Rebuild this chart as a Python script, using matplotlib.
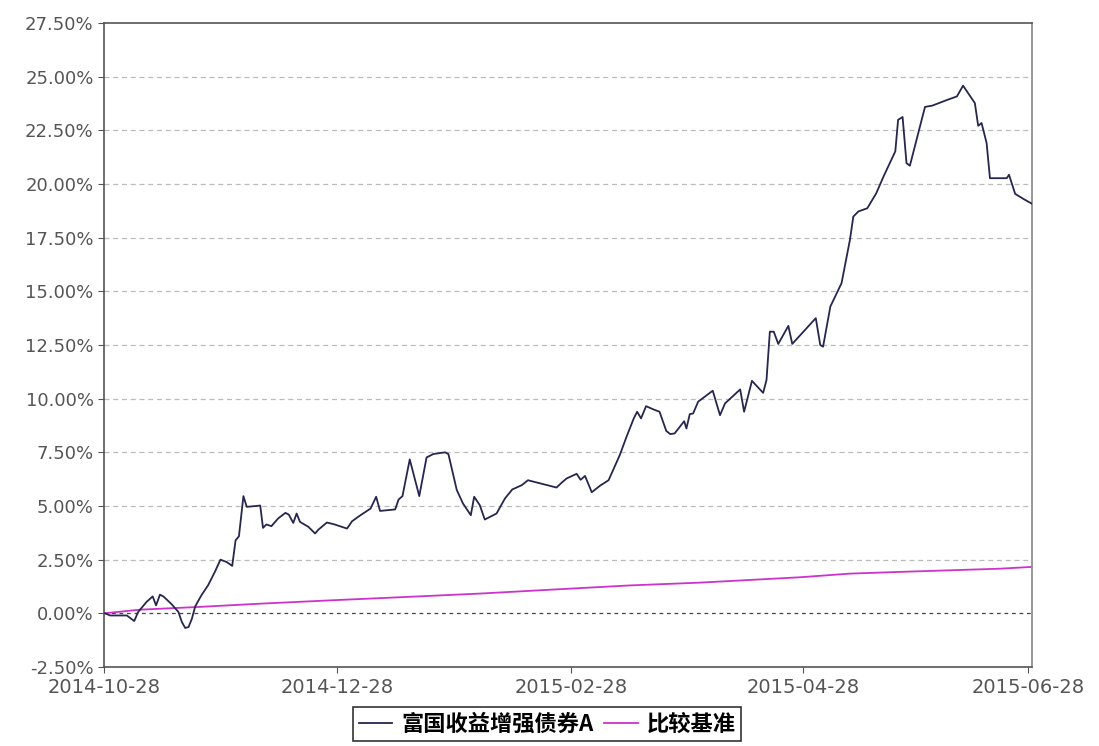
import matplotlib
matplotlib.use("Agg")
import matplotlib.pyplot as plt
from matplotlib.ticker import FuncFormatter

# trading-day position (0 = 2014-10-28) and cumulative return in %
fund_day = [0.2, 1.1, 4.1, 5.4, 6.1, 7.6, 8.7, 9.3, 10.0, 10.6, 12.1, 13.3, 13.9, 14.5,
            15.1, 15.7, 16.3, 17.4, 18.6, 19.8, 20.8, 21.9, 22.9, 23.5, 24.1, 24.9, 25.5,
            27.9, 28.4, 29.0, 29.9, 31.1, 32.4, 33.0, 33.8, 34.4, 35.0, 36.5, 37.7, 38.3,
            39.8, 41.2, 42.1, 43.4, 44.3, 45.8, 47.6, 48.6, 49.3, 52.0, 52.6, 53.3, 54.6,
            56.3, 57.6, 58.8, 60.9, 61.5, 63.0, 64.1, 65.5, 66.1, 67.1, 68.0, 70.1, 71.6,
            72.9, 74.6, 75.7, 80.8, 81.7, 82.6, 84.4, 85.1, 85.9, 87.1, 88.6, 90.1, 92.1,
            93.3, 94.6, 95.2, 95.9, 96.8, 98.1, 99.2, 100.4, 101.1, 101.9, 103.6, 104.0,
            104.6, 105.2, 106.1, 108.7, 110.0, 110.9, 113.6, 114.3, 115.7, 117.7, 118.3,
            118.9, 119.6, 120.4, 122.2, 122.9, 127.1, 127.9, 128.4, 129.7, 131.7, 133.2,
            133.8, 134.7, 136.3, 137.9, 139.2, 141.3, 141.8, 142.6, 143.3, 143.9, 146.6,
            147.9, 150.4, 152.3, 153.4, 155.5, 156.1, 156.7, 157.6, 158.2, 161.2, 161.6,
            162.7, 164.2, 165.7]
fund_ret = [0.00, -0.10, -0.10, -0.36, 0.06, 0.53, 0.79, 0.37, 0.87, 0.79, 0.42, 0.06, -0.40,
            -0.68, -0.64, -0.25, 0.33, 0.84, 1.31, 1.93, 2.50, 2.39, 2.21, 3.40, 3.59, 5.46,
            4.96, 5.02, 3.98, 4.14, 4.06, 4.42, 4.68, 4.60, 4.21, 4.65, 4.26, 4.03, 3.72,
            3.90, 4.23, 4.14, 4.06, 3.95, 4.29, 4.57, 4.88, 5.43, 4.77, 4.84, 5.30, 5.46,
            7.17, 5.46, 7.26, 7.42, 7.50, 7.42, 5.74, 5.12, 4.57, 5.43, 5.04, 4.37, 4.65,
            5.35, 5.77, 5.97, 6.20, 5.86, 6.08, 6.28, 6.50, 6.22, 6.40, 5.64, 5.95, 6.20,
            7.37, 8.22, 9.08, 9.39, 9.08, 9.65, 9.50, 9.39, 8.50, 8.35, 8.38, 8.95, 8.61,
            9.28, 9.31, 9.86, 10.37, 9.23, 9.78, 10.43, 9.39, 10.83, 10.27, 10.87, 13.12,
            13.12, 12.55, 13.39, 12.55, 13.75, 12.50, 12.42, 14.29, 15.38, 17.40, 18.48,
            18.72, 18.87, 19.57, 20.35, 21.52, 22.99, 23.12, 20.97, 20.85, 23.59, 23.65,
            23.90, 24.08, 24.58, 23.77, 22.71, 22.84, 21.91, 20.27, 20.27, 20.43, 19.54,
            19.30, 19.08]

bench_day = [0.0, 6.4, 17.1, 27.9, 40.9, 52.9, 67.1, 83.2, 93.9, 106.4, 124.3, 133.2,
             142.1, 152.9, 160.0, 165.5]
bench_ret = [0.00, 0.17, 0.30, 0.45, 0.61, 0.75, 0.92, 1.15, 1.30, 1.43, 1.68, 1.85,
             1.93, 2.02, 2.08, 2.16]

tick_days = [0, 41.6, 83.4, 124.8, 165.0]
tick_labels = ["2014-10-28", "2014-12-28", "2015-02-28", "2015-04-28", "2015-06-28"]
y_ticks = [-2.5, 0, 2.5, 5, 7.5, 10, 12.5, 15, 17.5, 20, 22.5, 25, 27.5]

plt.rcParams['font.family'] = ['DejaVu Sans', 'Noto Sans CJK SC']

fig = plt.figure(figsize=(10.99, 7.46), dpi=100)
ax = fig.add_axes([0.0946, 0.1059, 0.8444, 0.8633])

ax.plot(fund_day, fund_ret, color='#26264f', lw=1.3, label='富国收益增强债券A', zorder=3)
ax.plot(bench_day, bench_ret, color='#cc33cc', lw=1.3, label='比较基准', zorder=2)

ax.set_xlim(0, 165.7)
ax.set_ylim(-2.5, 27.5)
ax.set_yticks(y_ticks)
ax.yaxis.set_major_formatter(FuncFormatter(lambda v, p: f"{v:.2f}%"))
ax.set_xticks(tick_days)
ax.set_xticklabels(tick_labels)

for v in y_ticks[1:-1]:
    if v == 0:
        ax.axhline(v, color='#444444', lw=0.9, ls=(0, (3, 3)), zorder=1)
    else:
        ax.axhline(v, color='#bbbbbb', lw=0.9, ls=(0, (4, 3)), zorder=1)

for s in ['left', 'bottom', 'top']:
    ax.spines[s].set_color('#555555')
ax.spines['right'].set_color('#888888')
for s in ax.spines.values():
    s.set_linewidth(1.2)

ax.tick_params(axis='y', labelsize=13, labelcolor='#555555', color='#555555', length=4)
ax.tick_params(axis='x', labelsize=14, labelcolor='#555555', color='#555555', length=4, pad=4)

leg = fig.legend(loc='upper center', bbox_to_anchor=(0.498, 0.052), ncol=2,
                 prop={'family': ['Noto Sans CJK SC'], 'size': 16, 'weight': 'bold'},
                 frameon=True, fancybox=False, handlelength=1.5, handletextpad=0.4,
                 columnspacing=0.5, borderpad=0.25, borderaxespad=0)
leg.get_frame().set_edgecolor('black')
leg.get_frame().set_linewidth(1.2)

fig.savefig('out.png', dpi=100)
